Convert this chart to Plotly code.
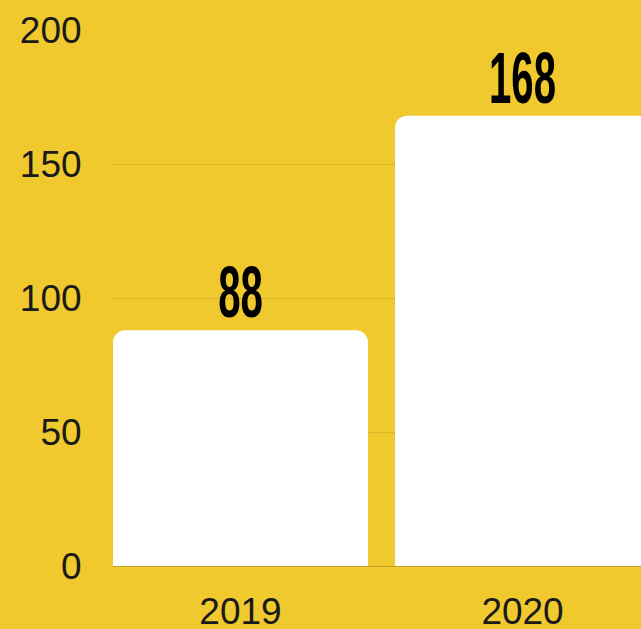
import plotly.graph_objects as go

years = ["2019", "2020"]
counts = [88, 168]
y_ticks = [0, 50, 100, 150, 200]

BG = "#F0C92E"
GRID = "#D8B62C"

fig = go.Figure()
fig.add_trace(go.Bar(
    x=years, y=counts,
    marker=dict(color="white", line=dict(width=0)),
    text=[str(v) for v in counts],
    textposition="outside",
    textfont=dict(family="Liberation Sans", size=73, color="black", weight="bold"),
    cliponaxis=False,
))
fig.update_layout(
    width=641, height=629,
    paper_bgcolor=BG, plot_bgcolor=BG,
    margin=dict(l=113, r=0, t=30, b=63),
    bargap=0.096,
    barcornerradius=12,
    showlegend=False,
    xaxis=dict(
        type="category",
        range=[-0.452, 1.42],
        showgrid=False,
        showline=False,
        zeroline=False,
        automargin=False,
        ticks="outside", ticklen=0,
        ticklabelstandoff=13,
        tickfont=dict(family="Liberation Sans", size=37, color="#1a1a1a"),
    ),
    yaxis=dict(
        range=[0, 200],
        tickvals=y_ticks,
        automargin=False,
        showgrid=True, gridcolor=GRID, gridwidth=1,
        zeroline=True, zerolinecolor="#BFA12C", zerolinewidth=1,
        ticks="outside", ticklen=0,
        ticklabelstandoff=23,
        tickfont=dict(family="Liberation Sans", size=37, color="#1a1a1a"),
    ),
)

post = """
document.body.style.margin='0';
document.body.style.overflow='hidden';
document.body.style.background='%s';
var gd = document.getElementById('{plot_id}');
function condense(){
  gd.querySelectorAll('text.bartext').forEach(function(t){
    if(!t.dataset.w){ t.dataset.w = t.getComputedTextLength(); }
    t.setAttribute('textLength', (parseFloat(t.dataset.w)*0.55).toFixed(1));
    t.setAttribute('lengthAdjust', 'spacingAndGlyphs');
    t.setAttribute('dy', '5');
  });
}
condense();
gd.on('plotly_afterplot', condense);
""" % BG

fig.write_html("out.html", post_script=post, config={"displayModeBar": False})
